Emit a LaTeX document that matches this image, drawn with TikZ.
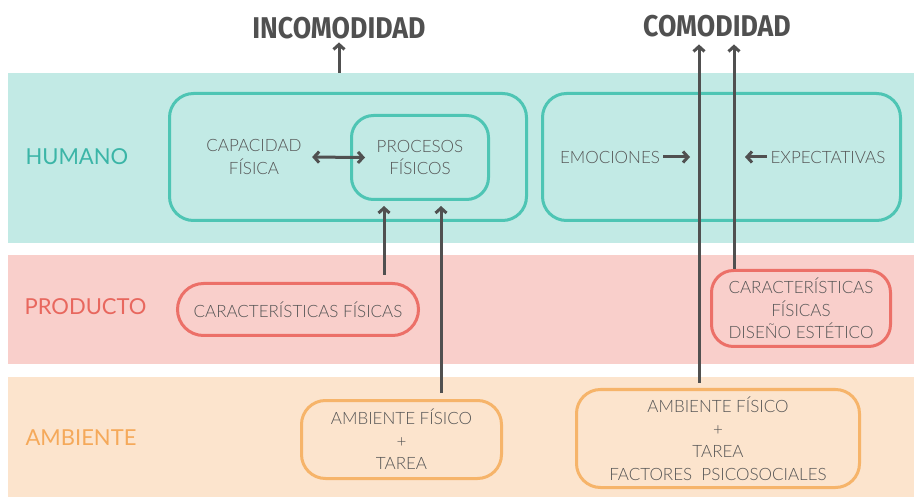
\documentclass[tikz,border=0pt]{standalone}
\usepackage{fontspec}
\setmainfont{Lato}
\newfontfamily\lightfont{Lato Light}
\newfontfamily\titlefont{Fira Sans}[FakeStretch=0.89]
\usetikzlibrary{arrows.meta}
\definecolor{humfill}{HTML}{C2EAE5}
\definecolor{prodfill}{HTML}{F9CFCB}
\definecolor{ambfill}{HTML}{FCE4CD}
\definecolor{humline}{HTML}{4EC5B4}
\definecolor{prodline}{HTML}{EC7068}
\definecolor{ambline}{HTML}{F6B46A}
\definecolor{humtext}{HTML}{3BB5A7}
\definecolor{prodtext}{HTML}{E8675E}
\definecolor{ambtext}{HTML}{F5A95A}
\definecolor{bodygray}{HTML}{555555}
\definecolor{arrowgray}{HTML}{505050}
\begin{document}
\begin{tikzpicture}[x=1pt,y=-1pt,
  box/.style={draw=#1, line width=3pt, rounded corners=24pt, inner sep=0pt},
  txt/.style={text=bodygray, font=\lightfont\fontsize{17}{22.5}\selectfont, align=center},
  lbl/.style={text=#1, font=\fontsize{22}{22}\selectfont, anchor=west},
  title/.style={text=arrowgray, font=\titlefont\bfseries\fontsize{30}{30}\selectfont},
  arr/.style={-{Straight Barb[length=5pt,width=11pt]}, line width=3pt, draw=arrowgray}]
\useasboundingbox (0,0) rectangle (914,497);
% Draw the three bands
\fill[humfill] (8,73) rectangle (914,243);
\fill[prodfill] (8,255) rectangle (914,364);
\fill[ambfill] (8,377) rectangle (914,497);
\coordinate (hum-top) at (339,73);
\node[lbl=humtext] (humano) at (22,157) {HUMANO};
\node[lbl=prodtext] (producto) at (21,307) {PRODUCTO};
\node[lbl=ambtext] (ambiente) at (22,438) {AMBIENTE};
% Titles
\node[title] (incom) at (339,28) {INCOMODIDAD};
\node[title] (comod) at (717,26) {COMODIDAD};
% Humano boxes
\node[box=humline, minimum width=357pt, minimum height=127pt] (humL) at (348,157) {};
\node[box=humline, rounded corners=22pt, minimum width=137pt, minimum height=84pt, txt] (proc) at (420,157.5) {PROCESOS\\FÍSICOS};
\node[txt] (capfis) at (254,157) {CAPACIDAD\\FÍSICA};
\node[box=humline, minimum width=358pt, minimum height=127pt] (humR) at (721.5,157) {};
\node[txt] (emo) at (610,157) {EMOCIONES};
\node[txt] (expec) at (828,157) {EXPECTATIVAS};
\coordinate (emo-end) at (690,157);
\coordinate (expec-end) at (745,157);
% Producto boxes
\node[box=prodline, rounded corners=26pt, minimum width=241pt, minimum height=52pt, txt] (prodL) at (298,309.5) {CARACTERÍSTICAS FÍSICAS};
\node[box=prodline, rounded corners=22pt, minimum width=179pt, minimum height=76pt, txt] (prodR) at (801,308.5) {CARACTERÍSTICAS\\FÍSICAS\\DISEÑO ESTÉTICO};
% Ambiente boxes
\node[box=ambline, minimum width=200pt, minimum height=78pt, txt] (ambL) at (401.5,439.5) {AMBIENTE FÍSICO\\+\\TAREA};
\node[box=ambline, minimum width=283pt, minimum height=98pt, txt] (ambR) at (718,438.5) {AMBIENTE FÍSICO\\+\\TAREA\\FACTORES\ \ PSICOSOCIALES};
% Arrows
\coordinate (p1) at (384,0);
\coordinate (p2) at (441,0);
\coordinate (c1) at (699,0);
\coordinate (c2) at (734,0);
\draw[arr] (hum-top) -- (incom.south);
\draw[arr, {Straight Barb[length=5pt,width=11pt]}-{Straight Barb[length=5pt,width=11pt]}, shorten <=7pt] (capfis.east) -- ([xshift=15pt]proc.west);
\draw[arr] (emo.east) -- (emo-end);
\draw[arr] (expec.west) -- (expec-end);
\draw[arr, shorten <=7pt, shorten >=5pt] (prodL.north -| p1) -- (proc.south -| p1);
\draw[arr, shorten <=6pt, shorten >=5pt] (ambL.north -| p2) -- (proc.south -| p2);
\draw[arr, shorten <=5pt, shorten >=4pt] (ambR.north -| c1) -- (comod.south -| c1);
\draw[arr, shorten >=4pt] (prodR.north -| c2) -- (comod.south -| c2);
\end{tikzpicture}
\end{document}
